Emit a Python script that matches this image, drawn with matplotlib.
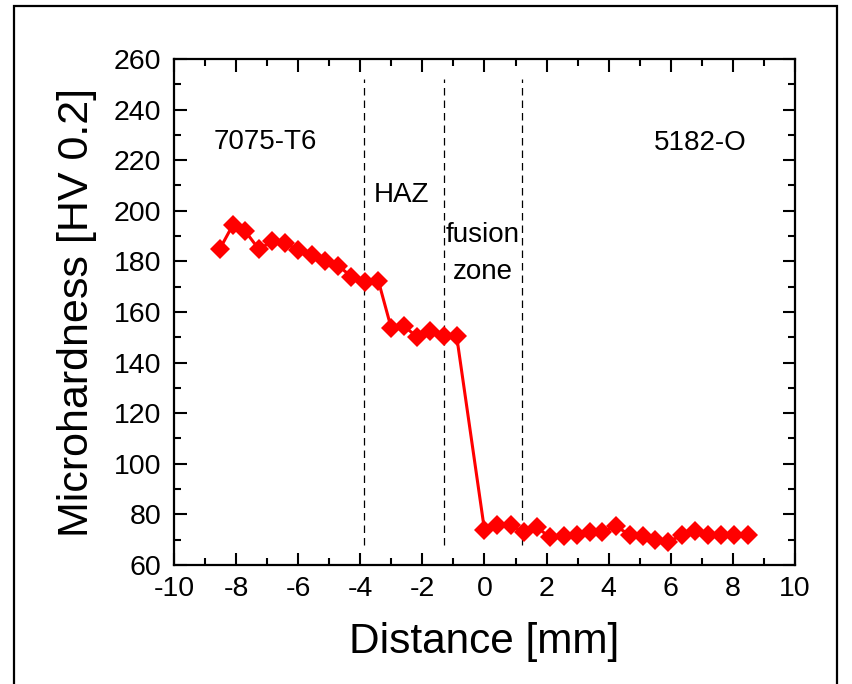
import matplotlib
matplotlib.use('Agg')
import matplotlib.pyplot as plt
from matplotlib.patches import Rectangle
from matplotlib.ticker import MultipleLocator

plt.rcParams['font.family'] = ['Liberation Sans', 'DejaVu Sans']
plt.rcParams['axes.unicode_minus'] = False

# measured hardness profile across the weld
distance = [-8.52, -8.10, -7.71, -7.26, -6.84, -6.42, -6.00, -5.55, -5.13, -4.71,
            -4.29, -3.84, -3.42, -3.00, -2.58, -2.16, -1.74, -1.32, -0.90, 0.00,
            0.39, 0.84, 1.26, 1.68, 2.10, 2.55, 2.97, 3.39, 3.80, 4.23,
            4.68, 5.10, 5.50, 5.90, 6.35, 6.77, 7.19, 7.61, 8.03, 8.48]
hardness = [185.0, 194.5, 192.0, 184.7, 188.0, 187.4, 184.3, 182.7, 180.0, 178.3,
            174.0, 172.0, 172.4, 153.5, 154.3, 150.0, 152.3, 150.7, 150.7, 73.8,
            75.8, 75.8, 73.0, 75.0, 71.0, 71.4, 71.8, 73.0, 73.0, 75.4,
            71.8, 71.4, 70.0, 69.0, 71.8, 73.4, 71.8, 71.8, 71.8, 71.8]

zone_bounds = [-3.87, -1.3, 1.22]
zone_labels = ['7075-T6', 'HAZ', 'fusion\nzone', '5182-O']
zone_label_pos = [(-7.07, 227.3), (-2.67, 206.3), (-0.05, 183), (6.94, 226.9)]

fig = plt.figure(figsize=(8.52, 6.84), dpi=100)
ax = fig.add_axes([0.2042, 0.174, 0.7289, 0.7398])

ax.plot(distance, hardness, color='#ff0000', linewidth=2.2, marker='D',
        markersize=10.5, markeredgewidth=0, zorder=3)

for xb in zone_bounds:
    ax.plot([xb, xb], [68, 252], color='black', linewidth=0.9,
            linestyle=(0, (6, 4)), zorder=2)

for label, (lx, ly) in zip(zone_labels, zone_label_pos):
    ax.text(lx, ly, label, fontsize=20, ha='center', va='center',
            linespacing=1.55)

ax.set_xlim(-10, 10)
ax.set_ylim(60, 260)
ax.xaxis.set_major_locator(MultipleLocator(2))
ax.xaxis.set_minor_locator(MultipleLocator(1))
ax.yaxis.set_major_locator(MultipleLocator(20))
ax.yaxis.set_minor_locator(MultipleLocator(10))
ax.tick_params(which='both', direction='in', top=True, right=True, width=1.5)
ax.tick_params(which='major', length=9, labelsize=20.5)
ax.tick_params(which='minor', length=5)
ax.tick_params(axis='x', pad=8)
ax.tick_params(axis='y', pad=9)
for sp in ax.spines.values():
    sp.set_linewidth(1.6)

ax.set_xlabel('Distance [mm]', fontsize=30.5, labelpad=14)
ax.set_ylabel('Microhardness [HV 0.2]', fontsize=31, labelpad=12)

# outer frame around the figure
fig.patches.append(Rectangle((14 / 852, -0.05), 823 / 852, 1.05 - 6 / 684,
                             transform=fig.transFigure, fill=False,
                             edgecolor='black', linewidth=1.6))

fig.savefig('out.png', dpi=100)
